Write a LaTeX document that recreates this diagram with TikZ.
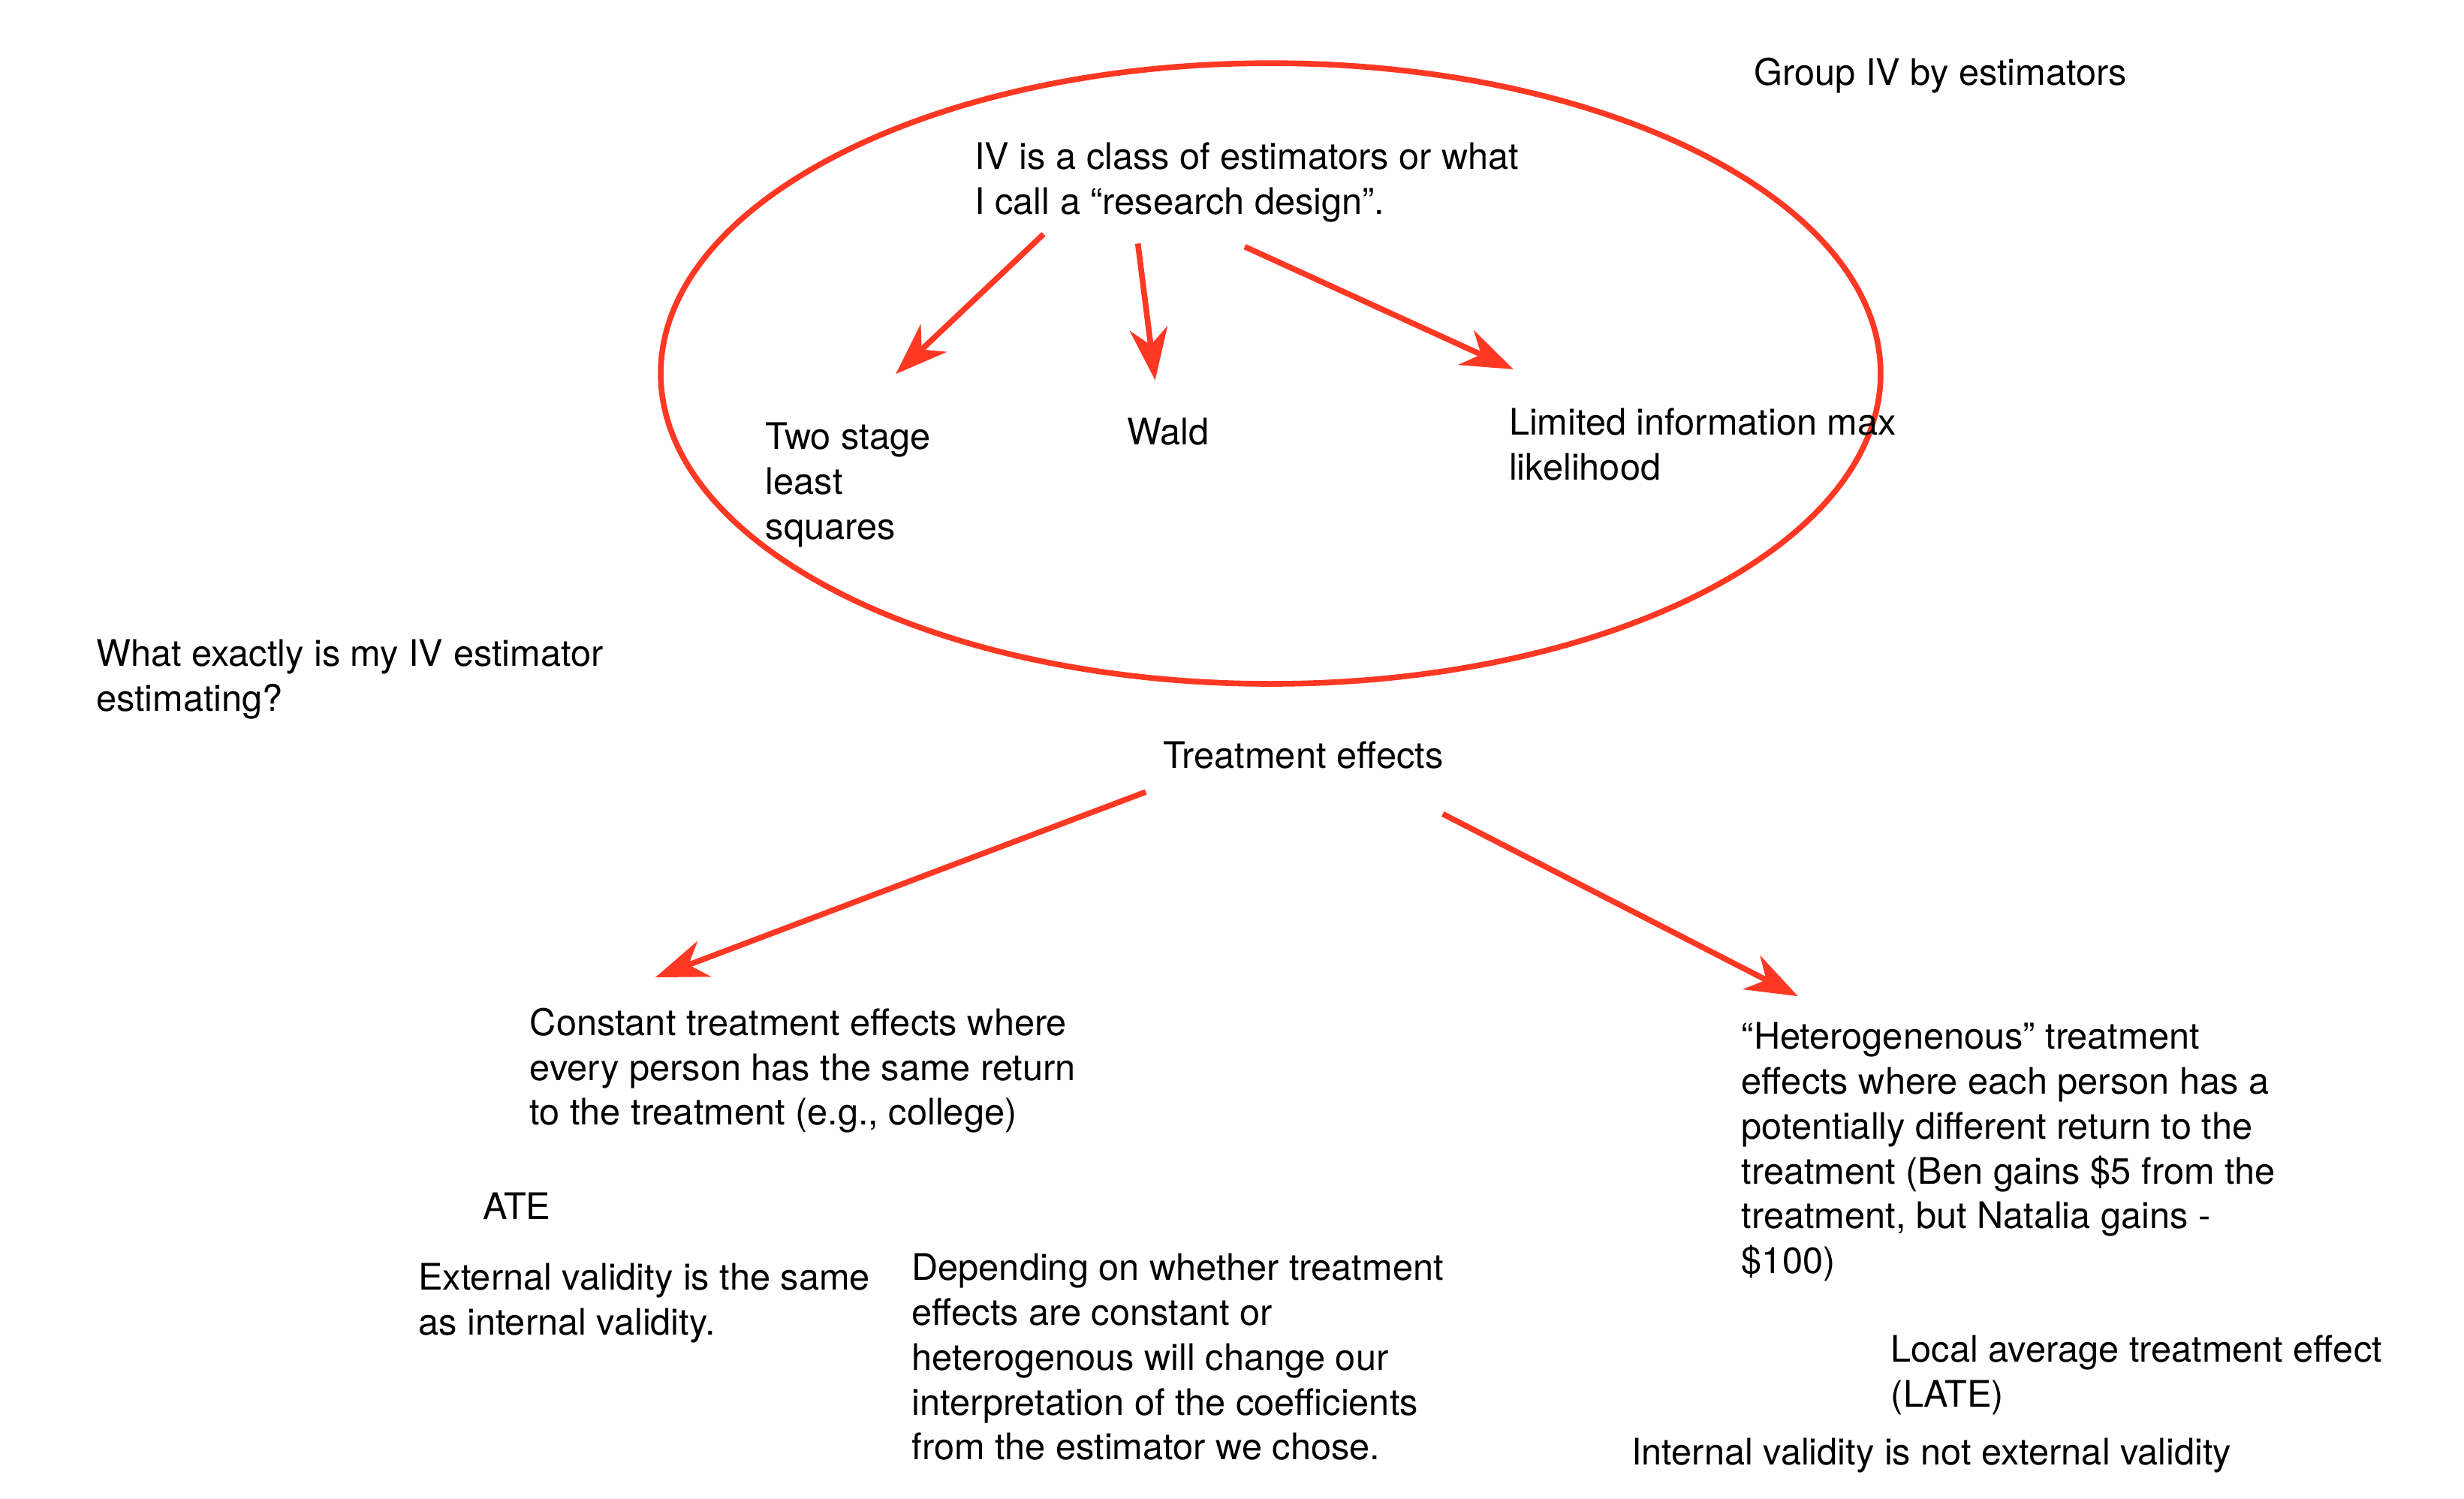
\documentclass[tikz,border=0pt]{standalone}
\usepackage{fontspec}
\setmainfont{TeX Gyre Heros}
\usetikzlibrary{arrows.meta}
\definecolor{arrred}{RGB}{255,56,36}
\tikzset{
  txt/.style={font=\fontsize{23.15}{28.4}\selectfont, align=left, inner sep=0pt, anchor=base west},
  redarrow/.style={draw=arrred, line width=3.6pt, -{Stealth[length=33pt, width=24pt, inset=10.5pt]}},
}
\begin{document}
\begin{tikzpicture}[x=0.995pt,y=-0.995pt]
\useasboundingbox[fill=white] (0,0) rectangle (1567.8,953.5);
\draw[arrred, line width=3.6pt] (808.5,237.7) ellipse [x radius=388.1, y radius=197.5];

% base anchor = baseline of the last line
\node[txt] (group) at (1116,54) {Group IV by estimators};
\node[txt] (iv) at (620,136.5) {IV is a class of estimators or what\\I call a “research design”.};
\node[txt] (tsls) at (487,343) {Two stage\\least\\squares};
\node[txt] (wald) at (717,283) {Wald};
\node[txt] (liml) at (960,305.5) {Limited information max\\likelihood};
\node[txt] (what) at (61,452.5) {What exactly is my IV estimator\\estimating?};
\node[txt] (te) at (740,489) {Treatment effects};
\node[txt] (const) at (337,716) {Constant treatment effects where\\every person has the same return\\to the treatment (e.g., college)};
\node[txt] (het) at (1108,810.5) {“Heterogenenous” treatment\\effects where each person has a\\potentially different return to the\\treatment (Ben gains \$5 from the\\treatment, but Natalia gains -\\\$100)};
\node[txt] (ate) at (307,776) {ATE};
\node[txt] (ext) at (266,849.5) {External validity is the same\\as internal validity.};
\node[txt] (dep) at (580,929) {Depending on whether treatment\\effects are constant or\\heterogenous will change our\\interpretation of the coefficients\\from the estimator we chose.};
\node[txt] (late) at (1203,895.5) {Local average treatment effect\\(LATE)};
\node[txt] (intv) at (1038,932) {Internal validity is not external validity};

\coordinate (s1) at (664,149); \coordinate (e1) at (570,238);
\coordinate (s2) at (724,155); \coordinate (e2) at (735,242);
\coordinate (s3) at (792,157); \coordinate (e3) at (963,235);
\coordinate (s4) at (729,504); \coordinate (e4) at (417,622);
\coordinate (s5) at (918,518); \coordinate (e5) at (1144,634);
\draw[redarrow] (s1) -- (e1);
\draw[redarrow] (s2) -- (e2);
\draw[redarrow] (s3) -- (e3);
\draw[redarrow] (s4) -- (e4);
\draw[redarrow] (s5) -- (e5);
\end{tikzpicture}
\end{document}
